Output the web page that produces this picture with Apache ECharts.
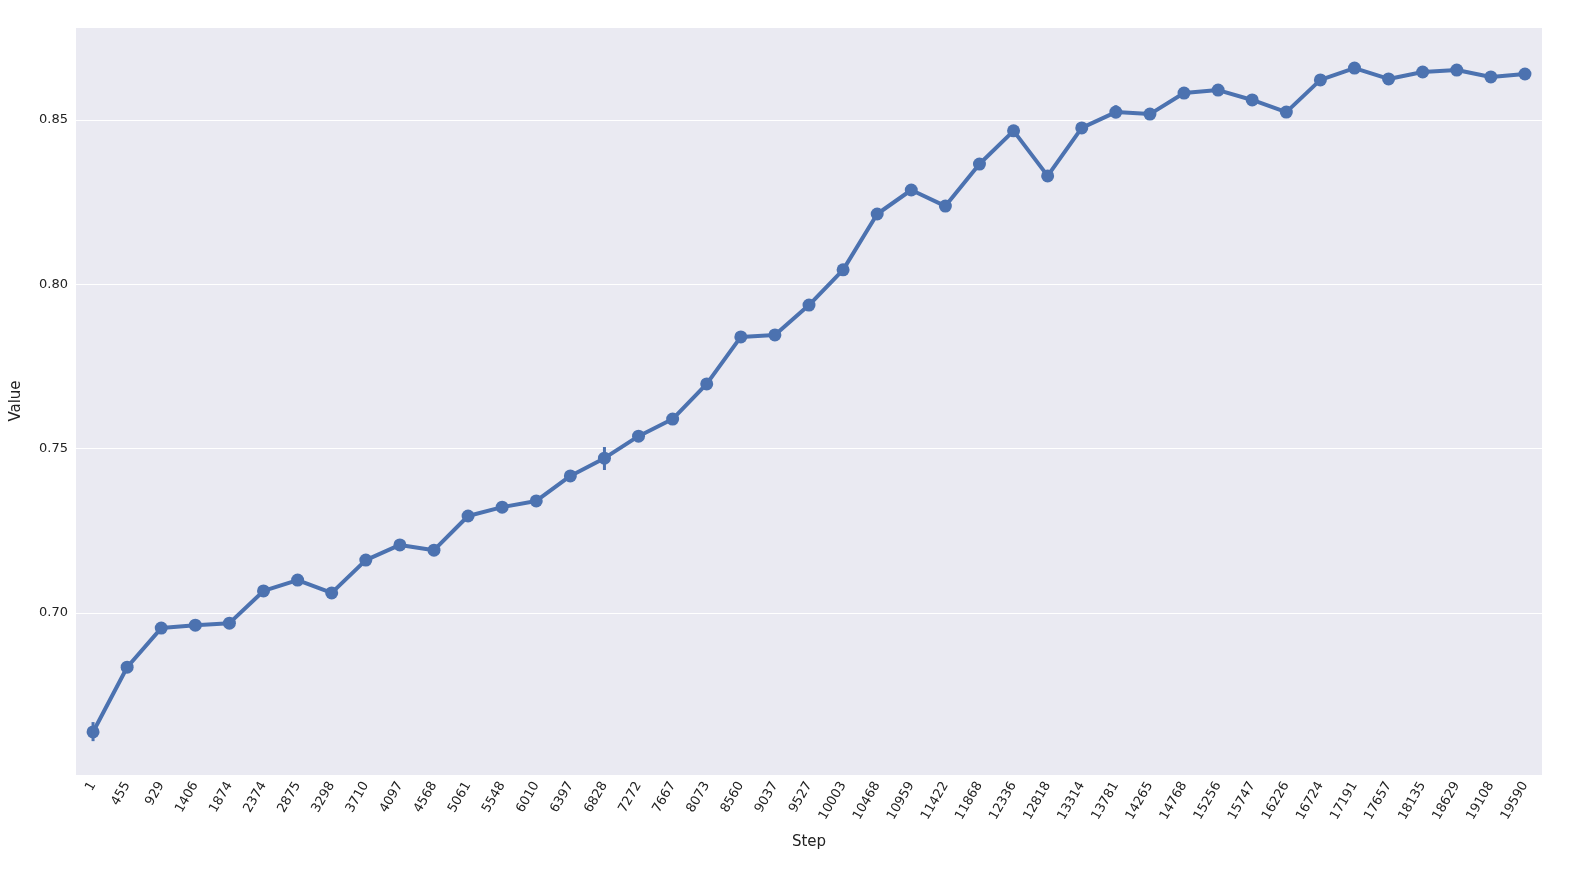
<!DOCTYPE html>
<html><head><meta charset="utf-8">
<script src="https://cdn.jsdelivr.net/npm/echarts@6/dist/echarts.min.js"></script>
<style>html,body{margin:0;padding:0;background:#fff}#c{width:1591px;height:872px}</style>
</head><body><div id="c"></div>
<script>
const steps=['1','455','929','1406','1874','2374','2875','3298','3710','4097','4568','5061','5548','6010','6397','6828','7272','7667','8073','8560','9037','9527','10003','10468','10959','11422','11868','12336','12818','13314','13781','14265','14768','15256','15747','16226','16724','17191','17657','18135','18629','19108','19590'];
const values=[0.6638,0.6835,0.6954,0.6963,0.6969,0.7067,0.7100,0.7061,0.7161,0.7207,0.7191,0.7295,0.7322,0.7341,0.7417,0.7471,0.7538,0.7590,0.7697,0.7840,0.7846,0.7937,0.8044,0.8214,0.8287,0.8238,0.8366,0.8467,0.8330,0.8476,0.8524,0.8518,0.8582,0.8591,0.8561,0.8524,0.8622,0.8658,0.8625,0.8646,0.8652,0.8631,0.8640];
const errLow=[0.6610,null,null,null,0.6955,null,null,null,null,null,null,null,null,null,null,0.7435,null,null,null,null,null,null,null,null,null,null,null,null,null,null,0.8505,null,null,null,null,null,null,null,null,null,null,null,null];
const errHigh=[0.6668,null,null,null,0.6985,null,null,null,null,null,null,null,null,null,null,0.7505,null,null,null,null,null,null,null,null,null,null,null,null,null,null,0.8545,null,null,null,null,null,null,null,null,null,null,null,null];
const errData=[];errLow.forEach((l,i)=>{if(l!=null)errData.push([i,l,errHigh[i]]);});
const ch=echarts.init(document.getElementById('c'));
ch.setOption({
 animation:false,
 grid:{left:76,right:49,top:27,bottom:97,backgroundColor:'#eaeaf2',show:true,borderWidth:0},
 xAxis:{type:'category',data:steps,boundaryGap:true,name:'Step',nameLocation:'middle',nameGap:60,
  nameTextStyle:{fontSize:15,color:'#222',fontFamily:'DejaVu Sans'},
  axisLine:{show:false},axisTick:{show:false},splitLine:{show:false},
  axisLabel:{rotate:60,interval:0,fontSize:13,color:'#222',fontFamily:'DejaVu Sans',margin:8}},
 yAxis:{type:'value',min:0.6507,max:0.8783,name:'Value',nameLocation:'middle',nameGap:52,
  nameTextStyle:{fontSize:15,color:'#222',fontFamily:'DejaVu Sans'},
  axisLine:{show:false},axisTick:{show:false},
  splitLine:{lineStyle:{color:'#fff',width:1.2}},
  axisLabel:{fontSize:13,color:'#222',fontFamily:'DejaVu Sans',
   customValues:[0.70,0.75,0.80,0.85],formatter:v=>v.toFixed(2)}},
 series:[
  {type:'line',data:values,symbol:'circle',symbolSize:13,
   lineStyle:{color:'#4c72b0',width:4},itemStyle:{color:'#4c72b0'},z:3},
  {type:'custom',data:errData,z:4,renderItem:(p,api)=>{
    const a=api.coord([api.value(0),api.value(1)]),b=api.coord([api.value(0),api.value(2)]);
    return {type:'line',shape:{x1:a[0],y1:a[1],x2:b[0],y2:b[1]},style:{stroke:'#4c72b0',lineWidth:3}};
  }}
 ]
});
</script></body></html>
